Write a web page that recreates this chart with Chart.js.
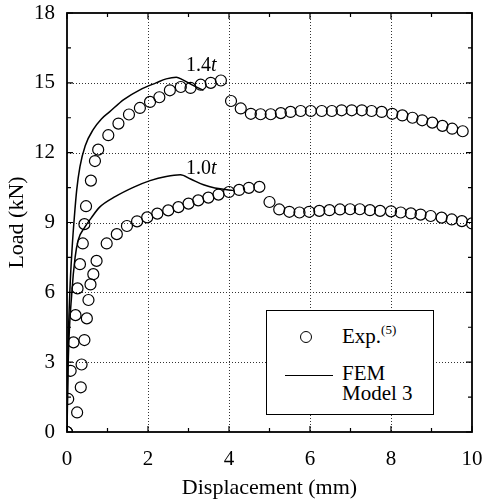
<!DOCTYPE html>
<html>
<head>
<meta charset="utf-8">
<script src="https://cdn.jsdelivr.net/npm/chart.js@4/dist/chart.umd.min.js"></script>
<style>
  html, body { margin: 0; padding: 0; background: #fff; }
  #wrap { position: relative; width: 484px; height: 502px; font-family: "Liberation Serif", "DejaVu Serif", serif; color: #000; }
  canvas { position: absolute; left: 0; top: 0; }
  .lbl { position: absolute; font-size: 20px; line-height: 1; white-space: nowrap; }
  #legend { position: absolute; left: 266px; top: 310px; width: 166px; height: 103px; border: 1.2px solid #000; background: #fff; }
  #legend .dot { position: absolute; left: 33px; top: 20px; width: 10px; height: 10px; border: 1.3px solid #000; border-radius: 50%; }
  #legend .ln { position: absolute; left: 18px; top: 64px; width: 48px; border-top: 1.5px solid #000; }
  #legend .t { position: absolute; left: 75px; font-size: 21px; line-height: 1; white-space: nowrap; }
  #legend sup { font-size: 13px; vertical-align: 9px; line-height: 0; }
</style>
</head>
<body>
<div id="wrap">
  <canvas id="c" width="484" height="502"></canvas>
  <div class="lbl" style="left:186px;top:54px;">1.4<i>t</i></div>
  <div class="lbl" style="left:186px;top:157px;">1.0<i>t</i></div>
  <div id="legend">
    <div class="dot"></div>
    <div class="t" style="top:15px;">Exp.<sup>(5)</sup></div>
    <div class="ln"></div>
    <div class="t" style="top:52px;">FEM</div>
    <div class="t" style="top:72px;">Model 3</div>
  </div>
</div>
<script>
// Load-displacement curves, experiment vs FEM (Model 3)

// ---------- Data ----------
const expX14 = [0, 0.03, 0.09, 0.16, 0.21, 0.26, 0.32, 0.39, 0.43, 0.47, 0.59, 0.69, 0.77, 1.02, 1.27, 1.53, 1.80, 2.05, 2.28, 2.54, 2.81, 3.05, 3.30, 3.55, 3.80,
                4.05, 4.29, 4.54, 4.78, 5.03, 5.28, 5.52, 5.77, 6.02, 6.29, 6.54, 6.78, 7.03, 7.28, 7.52, 7.77, 8.03, 8.28, 8.53, 8.77, 9.02, 9.27, 9.51, 9.77];
const expY14 = [0, 1.42, 2.63, 3.85, 5.02, 6.17, 7.21, 8.10, 8.93, 9.70, 10.80, 11.64, 12.13, 12.75, 13.25, 13.64, 13.92, 14.18, 14.38, 14.68, 14.82, 14.78, 14.92, 15.00, 15.10,
                14.22, 13.90, 13.67, 13.65, 13.65, 13.70, 13.75, 13.79, 13.79, 13.79, 13.79, 13.82, 13.82, 13.82, 13.79, 13.75, 13.67, 13.60, 13.50, 13.39, 13.29, 13.15, 13.03, 12.92];

const expX10 = [0, 0.25, 0.34, 0.36, 0.43, 0.49, 0.53, 0.58, 0.65, 0.73, 0.98, 1.23, 1.48, 1.73, 1.98, 2.23, 2.50, 2.75, 3.00, 3.24, 3.49, 3.74, 4.00, 4.25, 4.49, 4.75,
                5.00, 5.24, 5.49, 5.74, 5.98, 6.23, 6.48, 6.74, 6.99, 7.23, 7.48, 7.73, 8.00, 8.24, 8.49, 8.73, 8.98, 9.25, 9.50, 9.75, 10.00];
const expY10 = [0, 0.84, 1.92, 2.90, 3.95, 4.88, 5.67, 6.34, 6.78, 7.35, 8.10, 8.50, 8.85, 9.05, 9.22, 9.38, 9.52, 9.66, 9.81, 9.95, 10.07, 10.20, 10.31, 10.40, 10.49, 10.53,
                9.88, 9.56, 9.46, 9.43, 9.46, 9.50, 9.53, 9.56, 9.57, 9.57, 9.53, 9.50, 9.48, 9.43, 9.39, 9.34, 9.28, 9.21, 9.13, 9.06, 8.96];

const femX14 = [0, 0.02, 0.07, 0.13, 0.18, 0.24, 0.32, 0.45, 0.65, 0.85, 1.05, 1.40, 1.80, 2.20, 2.45, 2.70, 2.85, 3.10, 3.37];
const femY14 = [0, 3.0, 6.0, 8.0, 9.2, 10.4, 11.4, 12.3, 13.0, 13.45, 13.75, 14.28, 14.7, 15.0, 15.17, 15.24, 15.14, 14.9, 14.68];

const femX10 = [0, 0.03, 0.12, 0.20, 0.28, 0.44, 0.60, 0.80, 1.20, 1.65, 2.05, 2.45, 2.80, 3.05, 3.37, 3.65, 3.95, 4.10];
const femY10 = [0, 3.0, 6.0, 7.5, 8.26, 8.8, 9.2, 9.65, 10.12, 10.52, 10.8, 10.98, 11.05, 10.87, 10.62, 10.48, 10.41, 10.38];

const xTicks = [0, 2, 4, 6, 8, 10];
const yTicks = [0, 3, 6, 9, 12, 15, 18];

const pts = (xs, ys) => xs.map((x, i) => ({ x, y: ys[i] }));

// ---------- Dotted grid, frame, inward ticks ----------
const gridPlugin = {
  id: "dotgrid",
  beforeDatasetsDraw(chart) {
    const { ctx, chartArea: a, scales: { x, y } } = chart;
    ctx.save();
    ctx.strokeStyle = "#333";
    ctx.lineWidth = 1;
    ctx.setLineDash([1, 2]);
    ctx.beginPath();
    xTicks.slice(1, -1).forEach(v => {
      const px = Math.round(x.getPixelForValue(v)) + 0.5;
      ctx.moveTo(px, a.top); ctx.lineTo(px, a.bottom);
    });
    yTicks.slice(1, -1).forEach(v => {
      const py = Math.round(y.getPixelForValue(v)) + 0.5;
      ctx.moveTo(a.left, py); ctx.lineTo(a.right, py);
    });
    ctx.stroke();
    ctx.restore();
  },
  afterDatasetsDraw(chart) {
    const { ctx, chartArea: a, scales: { x, y } } = chart;
    ctx.save();
    ctx.strokeStyle = "#000";
    ctx.lineWidth = 1.2;
    ctx.beginPath();
    for (let v = 0; v <= 10; v += 1) {
      const px = x.getPixelForValue(v);
      const len = v % 2 === 0 ? 6 : 4;
      ctx.moveTo(px, a.bottom); ctx.lineTo(px, a.bottom - len);
      ctx.moveTo(px, a.top); ctx.lineTo(px, a.top + len);
    }
    for (let v = 0; v <= 18; v += 1.5) {
      const py = y.getPixelForValue(v);
      const len = v % 3 === 0 ? 6 : 4;
      ctx.moveTo(a.left, py); ctx.lineTo(a.left + len, py);
      ctx.moveTo(a.right, py); ctx.lineTo(a.right - len, py);
    }
    ctx.stroke();
    ctx.lineWidth = 1.8;
    ctx.strokeRect(a.left, a.top, a.right - a.left, a.bottom - a.top);
    ctx.restore();
  }
};

const tickFont = { family: "'Liberation Serif', serif", size: 21 };
const titleFont = { family: "'Liberation Serif', serif", size: 22 };

new Chart(document.getElementById("c"), {
  type: "scatter",
  data: {
    datasets: [
      { label: "FEM 1.4t", data: pts(femX14, femY14), showLine: true, cubicInterpolationMode: "monotone", borderColor: "#000", borderWidth: 1.5, pointRadius: 0 },
      { label: "FEM 1.0t", data: pts(femX10, femY10), showLine: true, cubicInterpolationMode: "monotone", borderColor: "#000", borderWidth: 1.5, pointRadius: 0 },
      { label: "Exp 1.4t", data: pts(expX14, expY14), pointRadius: 5.5, pointBorderWidth: 1.2, borderColor: "#000", backgroundColor: "rgba(0,0,0,0)" },
      { label: "Exp 1.0t", data: pts(expX10, expY10), pointRadius: 5.5, pointBorderWidth: 1.2, borderColor: "#000", backgroundColor: "rgba(0,0,0,0)" },
    ]
  },
  options: {
    responsive: false,
    animation: false,
    layout: { padding: { top: 13, right: 12, left: 0, bottom: 0 } },
    plugins: { legend: { display: false }, tooltip: { enabled: false } },
    scales: {
      x: {
        type: "linear", min: 0, max: 10,
        afterFit: (s) => { s.height = 70; s.paddingLeft = 0; s.paddingRight = 0; },
        afterBuildTicks: (s) => { s.ticks = xTicks.map(v => ({ value: v })); },
        ticks: { font: tickFont, color: "#000", padding: 15, maxRotation: 0 },
        grid: { display: false, drawTicks: false },
        border: { display: false },
        title: { display: true, text: "Displacement (mm)", font: titleFont, color: "#000", padding: { top: 1, bottom: 1 } },
      },
      y: {
        type: "linear", min: 0, max: 18,
        afterFit: (s) => { s.width = 67; s.paddingTop = 0; s.paddingBottom = 0; },
        afterBuildTicks: (s) => { s.ticks = yTicks.map(v => ({ value: v })); },
        ticks: { font: tickFont, color: "#000", padding: 12 },
        grid: { display: false, drawTicks: false },
        border: { display: false },
        title: { display: true, text: "Load (kN)", font: titleFont, color: "#000", padding: { top: 4, bottom: 0 } },
      }
    }
  },
  plugins: [gridPlugin]
});
</script>
</body>
</html>
